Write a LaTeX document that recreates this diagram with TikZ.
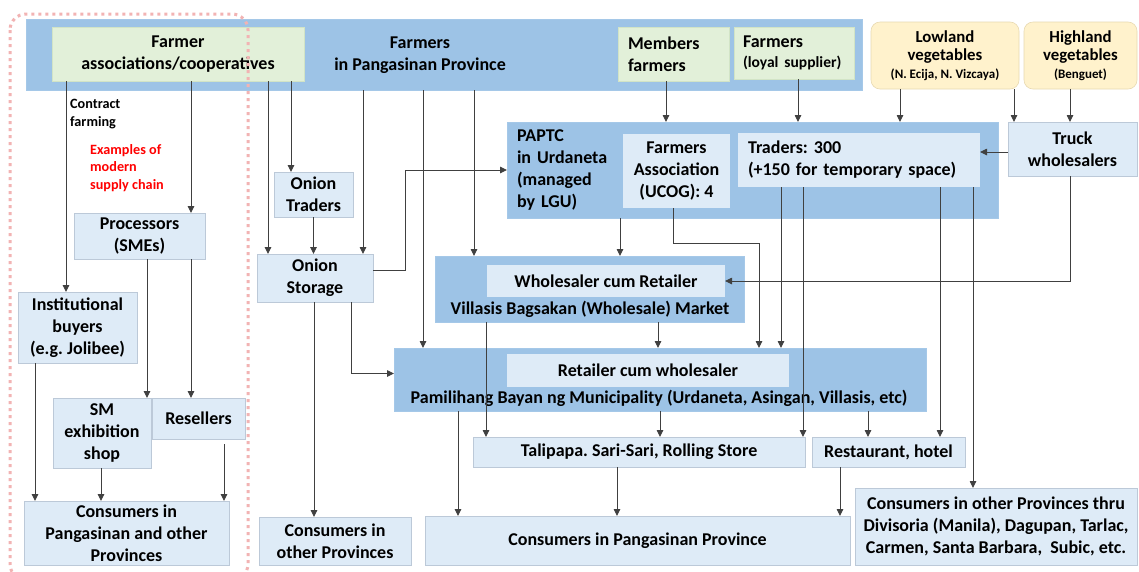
\documentclass[tikz,border=0pt]{standalone}
\usepackage{fontspec}
\setmainfont{Carlito}
\usetikzlibrary{arrows.meta}
\frenchspacing
\definecolor{bandblue}{HTML}{9DC3E6}
\definecolor{paleblue}{HTML}{DEEBF7}
\definecolor{paleedge}{HTML}{BCC9D8}
\definecolor{palegreen}{HTML}{E2F0D9}
\definecolor{greenedge}{HTML}{D2E4C6}
\definecolor{paleyellow}{HTML}{FFF2CC}
\definecolor{yellowedge}{HTML}{E8DAB2}
\definecolor{linkgray}{HTML}{404040}
\definecolor{dotpink}{HTML}{F2B3B3}
\definecolor{notered}{HTML}{FF0000}

\tikzset{
  pos box/.style n args={4}{anchor=north west, at={(#1,#2)},
    minimum width={#3-#1}, minimum height={#4-#2}},
  boxbase/.style={inner sep=0pt, outer sep=0pt, align=center},
  bigbox/.style={boxbase, fill=bandblue, draw=bandblue!92!white, line width=0.6pt},
  palebox/.style={boxbase, fill=paleblue, draw=paleedge, line width=0.8pt},
  innerbox/.style={boxbase, fill=paleblue},
  greenbox/.style={boxbase, fill=palegreen, draw=greenedge, line width=0.6pt},
  yellowbox/.style={boxbase, fill=paleyellow, draw=yellowedge, line width=0.6pt,
    rounded corners=9pt, font=\fontsize{16.8}{19}\selectfont\bfseries},
  textonly/.style={inner sep=0pt, align=center},
  link/.style={draw=linkgray, line width=0.9pt, -{Triangle[length=7pt,width=6.5pt]}},
}

\begin{document}
\begin{tikzpicture}[x=1pt, y=-1pt, font=\fontsize{18}{22}\selectfont\bfseries]
\fill[white] (0,0) rectangle (1139,571);
\useasboundingbox (0,0) rectangle (1139,571);

% ---------- producers band ----------
\node[bigbox, pos box={26}{19}{862}{90}] (band) {};
\node[textonly] (bandlbl) at (420,55) {Farmers\\in Pangasinan Province};
\node[greenbox, pos box={52}{27}{304}{81}] (fac) {Farmer\\associations/cooperatives};
\node[greenbox, pos box={618}{27}{729}{81}, align=left, text width=91pt] (mem) {Members\\farmers};
\node[greenbox, pos box={734}{27}{854}{79}, align=left, text width=102pt] (loyal)
  {Farmers\\[-2pt]{\fontsize{15.5}{19}\selectfont (loyal supplier)}};
\node[yellowbox, pos box={871}{22}{1019}{89}] (low)
  {Lowland\\[-1pt]vegetables\\[-1pt]{\fontsize{13}{15}\selectfont (N. Ecija, N. Vizcaya)}};
\node[yellowbox, pos box={1024}{22}{1137}{89}] (high)
  {Highland\\[-1pt]vegetables\\[-1pt]{\fontsize{13}{15}\selectfont (Benguet)}};

% ---------- trading centre ----------
\node[bigbox, pos box={507}{122}{998}{218}, align=left, text width=471pt] (paptc)
  {PAPTC\\in Urdaneta\\(managed\\by LGU)};
\node[innerbox, pos box={623}{134}{730}{208}] (fa) {Farmers\\Association\\(UCOG): 4};
\node[innerbox, pos box={738}{133}{980}{187}, align=left, text width=222pt] (trd)
  {Traders: 300\\(+150 for temporary space)};
\node[palebox, pos box={1008}{122}{1137}{176}] (truck) {Truck\\wholesalers};

% ---------- onion chain ----------
\node[palebox, pos box={274}{172}{353}{217}] (otr) {Onion\\Traders};
\node[palebox, pos box={257}{254}{373}{302}] (ost) {Onion\\Storage};
\node[palebox, pos box={259}{517}{411}{565}] (cop) {Consumers in\\other Provinces};

% ---------- modern supply chain ----------
\node[palebox, pos box={74}{213}{205}{259}] (proc) {Processors\\(SMEs)};
\node[palebox, pos box={18}{292}{137}{363}] (inst) {Institutional\\buyers\\(e.g. Jolibee)};
\node[palebox, pos box={53}{398}{151}{468}] (sm) {SM\\exhibition\\shop};
\node[palebox, pos box={152}{398}{245}{439}] (res) {Resellers};
\node[palebox, pos box={24}{501}{229}{565}] (cpo) {Consumers in\\Pangasinan and other\\Provinces};

% ---------- markets ----------
\node[bigbox, pos box={435}{256}{744}{322}] (vil) {};
\node[innerbox, pos box={487}{265}{725}{297}] (wcr) {Wholesaler cum Retailer};
\node[textonly] (villbl) at (590,309) {Villasis Bagsakan (Wholesale) Market};
\node[bigbox, pos box={394}{348}{926}{411}] (pam) {};
\node[innerbox, pos box={507}{354}{789}{387}] (rcw) {Retailer cum wholesaler};
\node[textonly] (pamlbl) at (659,398) {Pamilihang Bayan ng Municipality (Urdaneta, Asingan, Villasis,\ etc)};

% ---------- retail and consumers ----------
\node[palebox, pos box={473}{437}{805}{467}] (tal) {Talipapa. Sari-Sari, Rolling Store};
\node[palebox, pos box={812}{437}{965}{467}] (rest) {Restaurant, hotel};
\node[palebox, pos box={425}{516}{850}{565}] (cpp) {Consumers in Pangasinan Province};
\node[palebox, pos box={855}{488}{1137}{565}] (cot)
  {Consumers in other Provinces thru\\Divisoria (Manila), Dagupan, Tarlac,\\Carmen, Santa Barbara,\ \ Subic, etc.};

% ---------- notes ----------
\node[anchor=north west, inner sep=0pt, align=left, font=\fontsize{14.2}{17.5}\selectfont\bfseries]
  (cf) at (70,99) {Contract\\farming};
\node[anchor=north west, inner sep=0pt, align=left, text=notered, font=\fontsize{14.2}{17.5}\selectfont\bfseries]
  (ex) at (90,144) {Examples of\\modern\\supply chain};

% ---------- flows ----------
% from farmer associations
\draw[link] ([xshift=14pt]fac.south west) -- ([xshift=14pt]fac.south west |- inst.north);
\draw[link] ([xshift=139pt]fac.south west) -- ([xshift=139pt]fac.south west |- proc.north);
\draw[link] ([xshift=216pt]fac.south west) -- ([xshift=216pt]fac.south west |- ost.north);
\draw[link] ([xshift=239pt]fac.south west) -- ([xshift=239pt]fac.south west |- otr.north);
% from farmers in the province
\draw[link] ([xshift=337pt]band.south west) -- ([xshift=337pt]band.south west |- ost.north);
\draw[link] ([xshift=397pt]band.south west) -- ([xshift=397pt]band.south west |- pam.north);
\draw[link] ([xshift=448pt]band.south west) -- ([xshift=448pt]band.south west |- vil.north);
% onion chain
\draw[link] (otr.south) -- (otr.south |- ost.north);
\draw[link] ([yshift=8pt]ost.east) -- ++(32,0) |- (paptc.west);
\draw[link] ([xshift=94pt]ost.south west) |- ([yshift=6pt]pam.west);
\draw[link] ([xshift=57pt]ost.south west) -- ([xshift=57pt]ost.south west |- cop.north);
% modern chain
\draw[link] ([xshift=73pt]proc.south west) -- ([xshift=73pt]proc.south west |- sm.north);
\draw[link] ([xshift=117pt]proc.south west) -- ([xshift=117pt]proc.south west |- res.north);
\draw[link] ([xshift=17pt]inst.south west) -- ([xshift=17pt]inst.south west |- cpo.north);
\draw[link] ([xshift=-1pt]sm.south) -- ([xshift=-1pt]sm.south |- cpo.north);
\draw[link] ([xshift=72pt,yshift=-5pt]res.south west) -- ([xshift=72pt]res.south west |- cpo.north);
% into the trading centre
\draw[link] ([xshift=48pt]mem.south west) -- ([xshift=48pt]mem.south west |- paptc.north);
\draw[link] ([xshift=64pt]loyal.south west) -- ([xshift=64pt]loyal.south west |- paptc.north);
\draw[link] ([xshift=29pt]low.south west) -- ([xshift=29pt]low.south west |- paptc.north);
\draw[link] ([xshift=143pt]low.south west) -- ([xshift=143pt]low.south west |- truck.north);
\draw[link] ([xshift=46pt]high.south west) -- ([xshift=46pt]high.south west |- truck.north);
\draw[link] ([yshift=-3pt]truck.west) -- ([yshift=-3pt]truck.west -| trd.east);
\draw[link] ([xshift=62pt]truck.south west) |- (wcr.east);
% out of the trading centre
\draw[link] ([xshift=113pt]paptc.south west) -- ([xshift=113pt]paptc.south west |- vil.north);
\draw[link] ([xshift=50pt]fa.south west) -- ++(0,35) -| ([xshift=365pt]pam.north west);
\draw[link] ([xshift=43pt]trd.south west) -- ([xshift=43pt]trd.south west |- pam.north);
\draw[link] ([xshift=65pt]trd.south west) -- ([xshift=65pt]trd.south west |- tal.north);
\draw[link] ([xshift=202pt]trd.south west) -- ([xshift=202pt]trd.south west |- rest.north);
\draw[link] ([xshift=235pt]trd.south west) -- ([xshift=235pt]trd.south west |- cot.north);
% markets to retail
\draw[link] ([xshift=51pt]vil.south west) -- ([xshift=51pt]vil.south west |- tal.north);
\draw[link] ([xshift=223pt]vil.south west) -- ([xshift=223pt]vil.south west |- pam.north);
\draw[link] ([xshift=64pt]pam.south west) -- ([xshift=64pt]pam.south west |- cpp.north);
\draw[link] ([xshift=266pt]pam.south west) -- ([xshift=266pt]pam.south west |- tal.north);
\draw[link] ([xshift=474pt]pam.south west) -- ([xshift=474pt]pam.south west |- rest.north);
\draw[link] ([xshift=144pt]tal.south west) -- ([xshift=144pt]tal.south west |- cpp.north);
\draw[link] ([xshift=28pt]rest.south west) -- ([xshift=28pt]rest.south west |- cpp.north);

% ---------- modern chain outline ----------
\draw[dotpink, line width=3pt, dash pattern=on 3pt off 4pt, rounded corners=16pt]
  (10,14) rectangle (248,580);
\end{tikzpicture}
\end{document}
